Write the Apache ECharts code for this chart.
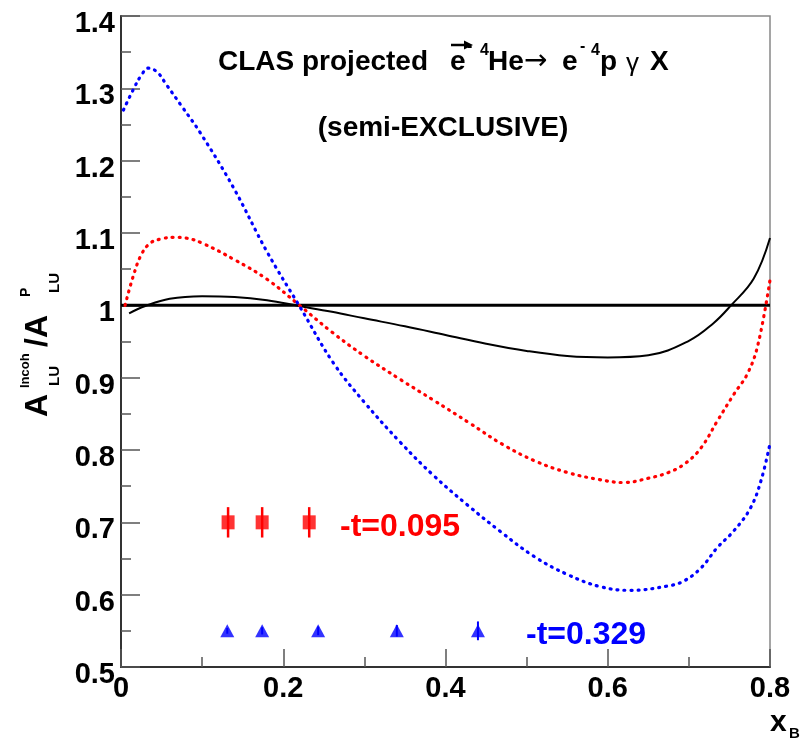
<!DOCTYPE html>
<html>
<head>
<meta charset="utf-8">
<script src="https://cdn.jsdelivr.net/npm/echarts@6/dist/echarts.min.js"></script>
<style>
  html, body { margin: 0; padding: 0; background: #fff; }
  #chart { width: 804px; height: 739px; }
</style>
</head>
<body>
<div id="chart"></div>
<script>
// curves (x_B, ratio)
const blackX = [0.01, 0.03, 0.06, 0.10, 0.14, 0.18, 0.22, 0.26, 0.30, 0.35, 0.40, 0.45, 0.50, 0.55, 0.60, 0.65, 0.70, 0.73, 0.752, 0.78, 0.80];
const blackY = [0.989, 0.999, 1.009, 1.0125, 1.0115, 1.007, 0.999, 0.991, 0.982, 0.971, 0.959, 0.947, 0.937, 0.930, 0.928, 0.931, 0.951, 0.975, 1.0, 1.037, 1.093];

const redX = [0.005, 0.015, 0.025, 0.036, 0.05, 0.065, 0.08, 0.10, 0.14, 0.18, 0.22, 0.26, 0.30, 0.345, 0.385, 0.43, 0.47, 0.51, 0.55, 0.59, 0.62, 0.65, 0.675, 0.695, 0.715, 0.735, 0.756, 0.772, 0.785, 0.80];
const redY = [1.0, 1.04, 1.07, 1.086, 1.092, 1.094, 1.093, 1.086, 1.063, 1.036, 1.0, 0.963, 0.93, 0.897, 0.869, 0.837, 0.808, 0.785, 0.769, 0.759, 0.755, 0.761, 0.769, 0.781, 0.803, 0.84, 0.878, 0.905, 0.945, 1.035];

const blueX = [0.003, 0.015, 0.025, 0.034, 0.045, 0.056, 0.075, 0.098, 0.138, 0.18, 0.221, 0.262, 0.30, 0.344, 0.385, 0.427, 0.468, 0.509, 0.55, 0.591, 0.628, 0.674, 0.694, 0.715, 0.735, 0.756, 0.776, 0.789, 0.80];
const blueY = [1.27, 1.298, 1.318, 1.328, 1.322, 1.305, 1.275, 1.238, 1.164, 1.074, 0.997, 0.92, 0.866, 0.811, 0.765, 0.724, 0.687, 0.653, 0.628, 0.611, 0.606, 0.612, 0.619, 0.637, 0.665, 0.689, 0.72, 0.758, 0.809];

const refX = [0, 0.8];
const refY = [1, 1];

// projected points
const redPtX = [0.132, 0.174, 0.232];
const redPtY = [0.70, 0.70, 0.70];
const redPtErr = [0.021, 0.021, 0.021];

const bluePtX = [0.131, 0.174, 0.243, 0.340, 0.440];
const bluePtY = [0.55, 0.55, 0.55, 0.55, 0.55];
const bluePtErr = [0.004, 0.005, 0.006, 0.008, 0.013];

const zip = (xs, ys) => xs.map((x, i) => [x, ys[i]]);
const zip3 = (xs, ys, es) => xs.map((x, i) => [x, ys[i], es[i]]);

const FONT = '"Liberation Sans", Arial, sans-serif';

function txt(x, y, text, size, opts) {
    opts = opts || {};
    return {
        type: 'text', x: x, y: y,
        style: {
            text: text,
            fontSize: size,
            fontWeight: opts.weight || 'bold',
            fontFamily: opts.family || FONT,
            fill: opts.color || '#000',
            align: opts.align || 'left',
            verticalAlign: 'middle'
        }
    };
}

function errorBars(color, width) {
    return function (params, api) {
        const x = api.value(0), y = api.value(1), e = api.value(2);
        const top = api.coord([x, y + e]);
        const bot = api.coord([x, y - e]);
        return {
            type: 'line',
            shape: { x1: top[0], y1: top[1], x2: bot[0], y2: bot[1] },
            style: { stroke: color, lineWidth: width }
        };
    };
}

const dotted = { type: [1, 6], cap: 'round', width: 3.2 };

const chart = echarts.init(document.getElementById('chart'));

const option = {
    animation: false,
    grid: {
        left: 121, right: 34, top: 16, bottom: 72,
        show: true, borderColor: '#888', borderWidth: 1.5
    },
    xAxis: {
        type: 'value', min: 0, max: 0.8, interval: 0.2,
        axisLine: { onZero: false, lineStyle: { color: '#333', width: 2 } },
        axisTick: { inside: true, length: 18, lineStyle: { color: '#555', width: 1.5 } },
        minorTick: { show: true, splitNumber: 2, length: 10, lineStyle: { color: '#555', width: 1.5 } },
        splitLine: { show: false },
        axisLabel: {
            margin: 22, verticalAlign: 'middle',
            fontSize: 29, fontWeight: 'bold', fontFamily: FONT, color: '#000'
        }
    },
    yAxis: {
        type: 'value', min: 0.5, max: 1.4, interval: 0.1,
        axisLine: { onZero: false, lineStyle: { color: '#333', width: 2 } },
        axisTick: { inside: true, length: 19, lineStyle: { color: '#555', width: 1.5 } },
        minorTick: { show: true, splitNumber: 2, length: 10, lineStyle: { color: '#555', width: 1.5 } },
        splitLine: { show: false },
        axisLabel: {
            margin: 6,
            formatter: v => '{n|' + String(Math.round(v * 10) / 10) + '}',
            rich: {
                n: {
                    padding: [16, 0, 0, 0],
                    fontSize: 29, fontWeight: 'bold', fontFamily: FONT, color: '#000'
                }
            }
        }
    },
    series: [
        {
            type: 'line', data: zip(refX, refY), showSymbol: false, silent: true,
            lineStyle: { color: '#000', width: 3 }
        },
        {
            type: 'line', data: zip(blackX, blackY), smooth: 0.4, showSymbol: false,
            lineStyle: { color: '#000', width: 2 }
        },
        {
            type: 'line', data: zip(redX, redY), smooth: 0.4, showSymbol: false,
            lineStyle: Object.assign({ color: '#ff0000' }, dotted)
        },
        {
            type: 'line', data: zip(blueX, blueY), smooth: 0.4, showSymbol: false,
            lineStyle: Object.assign({ color: '#0000ff' }, dotted)
        },
        {
            type: 'custom', data: zip3(redPtX, redPtY, redPtErr),
            renderItem: errorBars('#ff0000', 2.5)
        },
        {
            type: 'custom', data: zip3(bluePtX, bluePtY, bluePtErr),
            renderItem: errorBars('#0000ff', 2)
        },
        {
            type: 'scatter', data: zip(redPtX, redPtY), symbol: 'rect', symbolSize: [13, 14],
            itemStyle: { color: '#ff0000' }
        },
        {
            type: 'scatter', data: zip(bluePtX, bluePtY), symbol: 'triangle', symbolSize: [14, 13],
            itemStyle: { color: '#0000ff' }
        }
    ],
    graphic: [
        // title line 1
        txt(218, 62, 'CLAS projected', 28),
        txt(450, 62, 'e', 28),
        { type: 'line', shape: { x1: 451, y1: 45, x2: 467, y2: 45 }, style: { stroke: '#000', lineWidth: 2.5 } },
        { type: 'polygon', shape: { points: [[473, 45], [464, 40.5], [464, 49.5]] }, style: { fill: '#000' } },
        txt(467, 47, '-', 16),
        txt(480, 51, '4', 16),
        txt(488, 62, 'He', 28),
        txt(524, 62, '\u2192', 28, { weight: 'normal', family: '"DejaVu Sans", sans-serif' }),
        txt(562, 62, 'e', 28),
        txt(580, 47, '-', 16),
        txt(591, 51, '4', 16),
        txt(600, 62, 'p', 28),
        txt(626, 64, '\u03b3', 26, { weight: 'normal' }),
        txt(650, 62, 'X', 28),
        // title line 2
        txt(443, 128, '(semi-EXCLUSIVE)', 28, { align: 'center' }),
        // -t labels
        txt(340, 527, '-t=0.095', 32, { color: '#ff0000' }),
        txt(526, 635, '-t=0.329', 32, { color: '#0000ff' }),
        // x axis title
        txt(770, 723, 'x', 30),
        txt(789, 734, 'B', 15),
        // y axis title, rotated
        {
            type: 'group', x: 50, y: 417, rotation: Math.PI / 2,
            children: [
                txt(0, -11.5, 'A', 32),
                txt(31, 5, 'LU', 15),
                txt(29, -25, 'Incoh', 13),
                txt(70, -11.5, '/A', 32),
                txt(120, -24, 'P', 14),
                txt(124, 5, 'LU', 15)
            ]
        }
    ]
};

chart.setOption(option);
</script>
</body>
</html>
